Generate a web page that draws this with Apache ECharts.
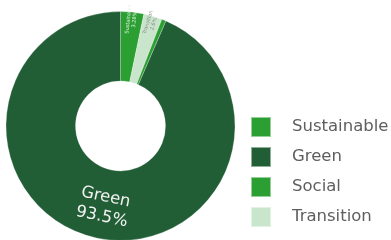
<!DOCTYPE html>
<html>
<head>
<meta charset="utf-8">
<script src="https://cdn.jsdelivr.net/npm/echarts@6/dist/echarts.min.js"></script>
<style>
  html, body { margin: 0; padding: 0; background: #fff; }
  #chart { width: 391px; height: 240px; }
</style>
</head>
<body>
<div id="chart"></div>
<script>
// slice order clockwise from 12 o'clock
var sliceNames = ['Sustainable', 'Transition', 'Social', 'Green'];
var sliceValues = [3.28, 2.6, 0.62, 93.5];
var sliceLabels = ['3.28%', '2.6%', '0.6%', '93.5%'];
var legendOrder = ['Sustainable', 'Green', 'Social', 'Transition'];

var colors = {
  Sustainable: '#2c9f33',
  Green: '#215e36',
  Social: '#2c9f33',
  Transition: '#c9e5cb'
};
var labelColors = {
  Sustainable: '#e6f4e6',
  Green: '#f2f2f2',
  Social: '#d9efd9',
  Transition: '#8a8a8a'
};

function fmt(p) {
  return p.name + '\n' + sliceLabels[p.dataIndex];
}

// main ring: only the big slice gets its label here
var ringData = sliceNames.map(function (n, i) {
  var big = n === 'Green';
  return {
    name: n,
    value: sliceValues[i],
    itemStyle: { color: colors[n] },
    label: {
      show: big,
      rotate: 'tangential',
      fontSize: 16.5,
      lineHeight: 20,
      color: labelColors[n]
    }
  };
});

// thin outer band, transparent, carries the tiny radial labels near the rim
var labelData = sliceNames.map(function (n, i) {
  return {
    name: n,
    value: sliceValues[i],
    label: {
      show: n !== 'Green',
      rotate: 'radial',
      fontSize: 5,
      lineHeight: 6,
      color: labelColors[n]
    }
  };
});

var chart = echarts.init(document.getElementById('chart'));
chart.setOption({
  animation: false,
  legend: {
    orient: 'vertical',
    left: 245,
    top: 111,
    itemWidth: 20,
    itemHeight: 20,
    itemGap: 8,
    icon: 'rect',
    data: legendOrder,
    textStyle: { fontFamily: 'DejaVu Sans', fontSize: 16.5, color: '#5e5e5e', padding: [0, 0, 0, 16] }
  },
  series: [{
    type: 'pie',
    center: [120.5, 126],
    radius: [45, 114.5],
    startAngle: 90,
    clockwise: true,
    avoidLabelOverlap: false,
    itemStyle: { borderColor: 'rgba(255,255,255,0.5)', borderWidth: 0.5 },
    label: { position: 'inside', fontFamily: 'DejaVu Sans', formatter: fmt },
    labelLine: { show: false },
    emphasis: { disabled: true },
    data: ringData
  }, {
    type: 'pie',
    center: [120.5, 126],
    radius: [94, 114.5],
    startAngle: 90,
    clockwise: true,
    silent: true,
    avoidLabelOverlap: false,
    legendHoverLink: false,
    itemStyle: { color: 'rgba(0,0,0,0)' },
    label: { position: 'inside', fontFamily: 'DejaVu Sans', formatter: fmt },
    labelLine: { show: false },
    emphasis: { disabled: true },
    data: labelData
  }]
});
</script>
</body>
</html>
